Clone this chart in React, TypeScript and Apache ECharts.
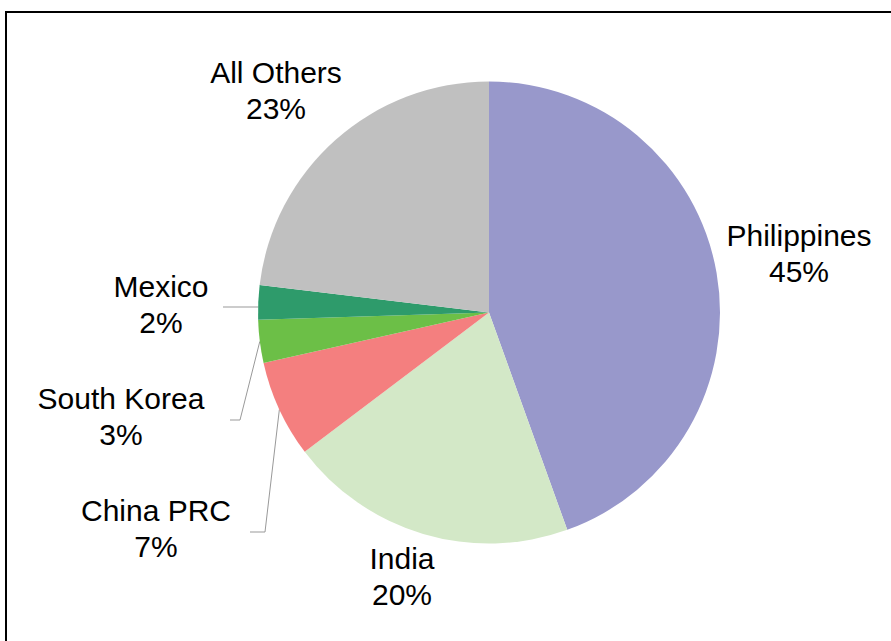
import React, { useEffect, useRef } from "react";
import * as echarts from "echarts";

const categories = ["Philippines", "India", "China PRC", "South Korea", "Mexico", "All Others"];
const shares = [44.5, 20.2, 6.8, 3.0, 2.4, 23.1];
const colors = ["#9898CB", "#D3E8C7", "#F47F7F", "#6CBF47", "#2E9B6B", "#C0C0C0"];
const withLeader = [false, false, true, true, true, false];

// label block centres (text placement)
const labelCenters: [number, number][] = [
  [799, 253],
  [402, 576],
  [156, 528],
  [121, 416],
  [161, 304],
  [276, 90],
];
// leader-line elbow / end points (for labels that have leaders)
const leaderBends: ([number, number][] | null)[] = [
  null,
  null,
  [[265, 532], [250, 532]],
  [[240, 420], [230, 420]],
  [[223, 307], [223, 307]],
  null,
];

export default function App() {
  const ref = useRef<HTMLDivElement>(null);
  useEffect(() => {
    if (!ref.current) return;
    const chart = echarts.init(ref.current, null, { renderer: "svg" });
    const font = "'Liberation Sans', Arial, sans-serif";
    chart.setOption({
      animation: false,
      backgroundColor: "#ffffff",
      graphic: [
        {
          type: "rect",
          shape: { x: 6, y: 12, width: 900, height: 700 },
          style: { fill: "none", stroke: "#000000", lineWidth: 2 },
          silent: true,
        },
      ],
      series: [
        {
          type: "pie",
          center: [489, 312.5],
          radius: 231,
          startAngle: 90,
          clockwise: true,
          avoidLabelOverlap: false,
          itemStyle: { borderWidth: 0 },
          label: {
            show: true,
            position: "outside",
            overflow: "none",
            fontFamily: font,
            fontSize: 30,
            lineHeight: 36,
            color: "#000000",
            formatter: (p: any) => `${p.name}\n${Math.round(p.value)}%`,
          },
          labelLine: {
            show: true,
            length: 10,
            length2: 10,
            lineStyle: { color: "#999999", width: 1 },
          },
          labelLayout: (params: any) => {
            const i = params.dataIndex;
            const [x, y] = labelCenters[i];
            const out: any = { x, y, align: "center", verticalAlign: "middle" };
            const bend = leaderBends[i];
            if (bend && params.labelLinePoints) {
              const p0 = params.labelLinePoints[0];
              const start = bend[0][1] === bend[1][1] && bend[0][0] === bend[1][0]
                ? [p0[0], bend[1][1]]
                : p0;
              out.labelLinePoints = [start, bend[0], bend[1]];
            }
            return out;
          },
          data: categories.map((name, i) => ({
            name,
            value: shares[i],
            itemStyle: { color: colors[i] },
            labelLine: { show: withLeader[i] },
          })),
        },
      ],
    });
    return () => chart.dispose();
  }, []);
  return (
    <div
      ref={ref}
      style={{ position: "absolute", left: 0, top: 0, width: 891, height: 641 }}
    />
  );
}
